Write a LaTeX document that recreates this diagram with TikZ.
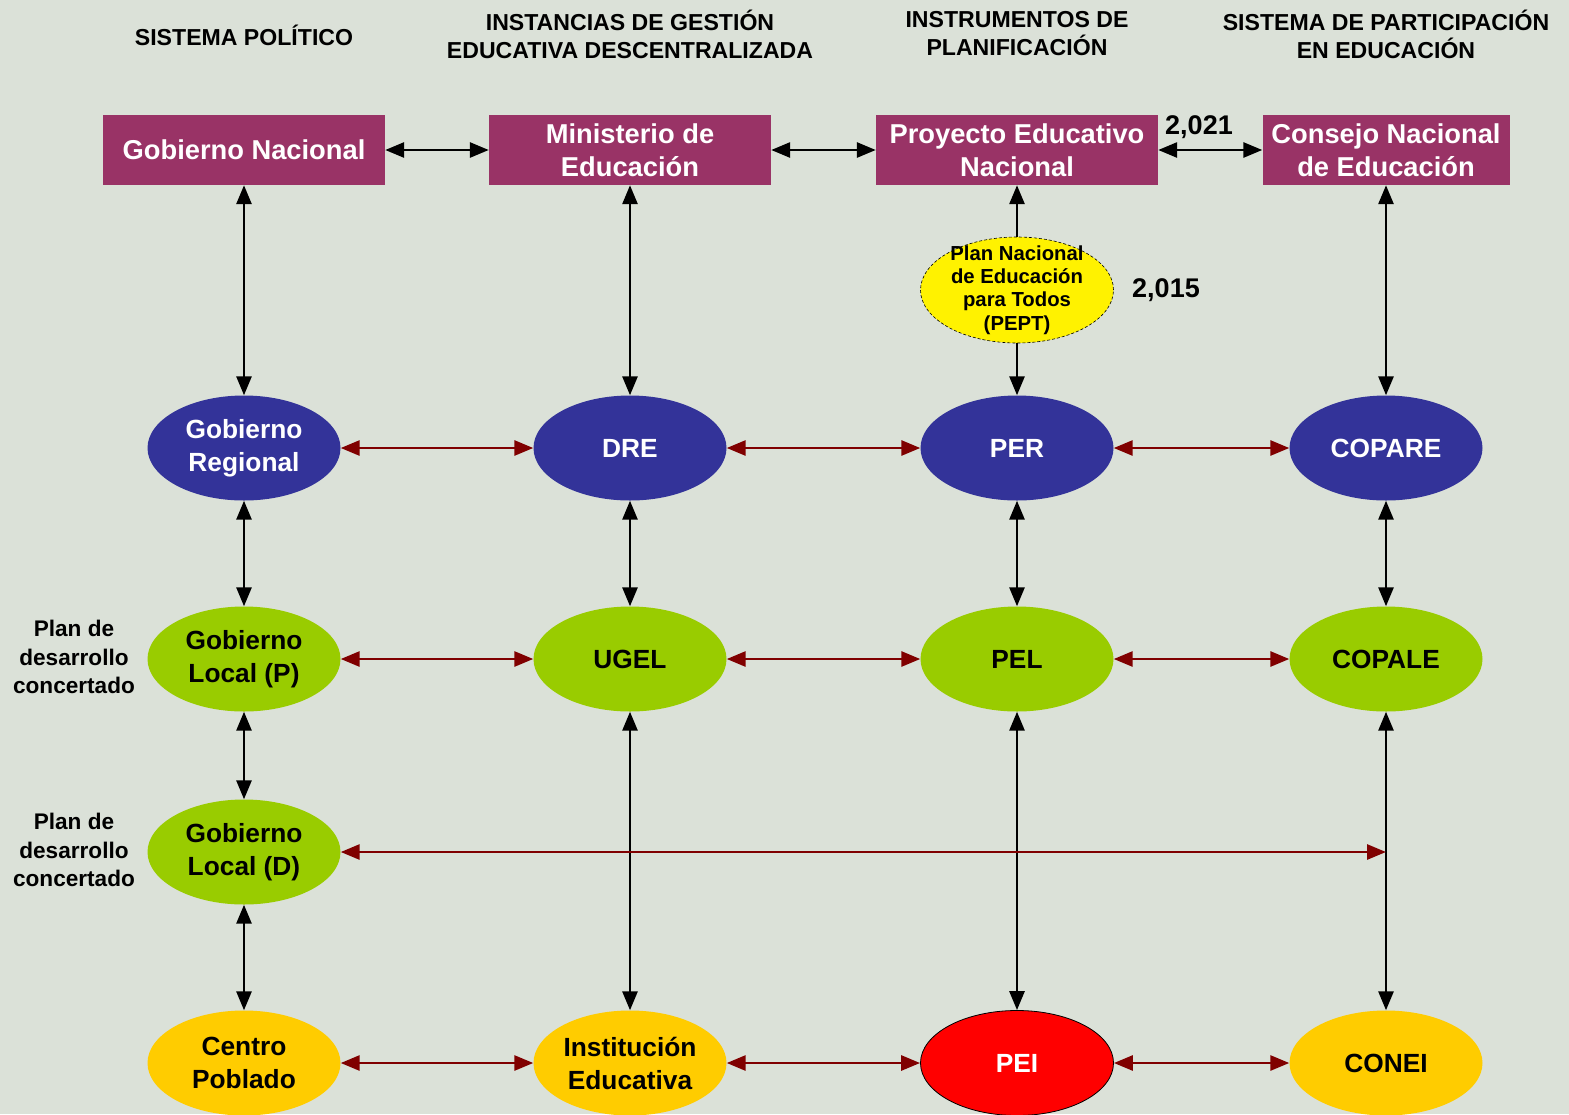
\documentclass[tikz,border=0pt]{standalone}
\usepackage{fontspec}
\setmainfont{Liberation Sans}
\usetikzlibrary{shapes.geometric,arrows.meta}
\definecolor{bgc}{HTML}{DBE1D8}
\definecolor{maroonc}{HTML}{993366}
\definecolor{navyc}{HTML}{333399}
\definecolor{limec}{HTML}{99CC00}
\definecolor{goldc}{HTML}{FFCC00}
\definecolor{darkredc}{HTML}{800000}
\tikzset{
  rectbox/.style={rectangle, fill=maroonc, text=white, minimum width=282pt, minimum height=70pt, inner sep=0pt, align=center, font=\bfseries\fontsize{27.3}{33}\selectfont},
  ell/.style={ellipse, minimum width=193pt, minimum height=105pt, inner sep=0pt, align=center, font=\bfseries\fontsize{26.3}{33}\selectfont},
  blueell/.style={ell, fill=navyc, text=white},
  greenell/.style={ell, fill=limec, text=black},
  goldell/.style={ell, fill=goldc, text=black},
  hdr/.style={align=center, inner sep=0pt, font=\bfseries\fontsize{23.1}{28}\selectfont},
  lbl/.style={align=center, inner sep=0pt, font=\bfseries\fontsize{22.6}{28.5}\selectfont},
  yr/.style={inner sep=0pt, font=\bfseries\fontsize{27}{30}\selectfont},
  pepttext/.style={align=center, inner sep=0pt, font=\bfseries\fontsize{20.3}{23.3}\selectfont},
  barrow/.style={line width=2.8pt, draw=black, {Triangle[length=19pt,width=15pt]}-{Triangle[length=19pt,width=15pt]}},
  sarrow/.style={line width=2.8pt, draw=black, -{Triangle[length=19pt,width=15pt]}},
  rarrow/.style={line width=2.8pt, draw=darkredc, {Triangle[length=19pt,width=15pt]}-{Triangle[length=19pt,width=15pt]}},
}
\begin{document}
\begin{tikzpicture}[x=1pt,y=-1pt]
\useasboundingbox (0,0) rectangle (1569,1114);
\clip (0,0) rectangle (1569,1114);
\fill[bgc] (0,0) rectangle (1569,1114);

% headers
\node[hdr] (h1) at (244,35) {SISTEMA POLÍTICO};
\node[hdr] (h2) at (630,34) {INSTANCIAS DE GESTIÓN\\EDUCATIVA DESCENTRALIZADA};
\node[hdr] (h3) at (1017,34) {INSTRUMENTOS DE\\PLANIFICACIÓN};
\node[hdr] (h4) at (1386,34) {SISTEMA DE PARTICIPACIÓN\\EN EDUCACIÓN};

% top boxes
\node[rectbox] (gn) at (244,150) {Gobierno Nacional};
\node[rectbox] (me) at (630,150) {Ministerio de\\Educación};
\node[rectbox] (pen) at (1017,150) {Proyecto Educativo\\Nacional};
\node[rectbox, minimum width=247pt] (cne) at (1386,150) {Consejo Nacional\\de Educación};

\node[yr] (y21) at (1199,127) {2,021};

% PEPT
\node[ellipse, fill=yellow, draw=black, densely dashed, line width=0.6pt, minimum width=193pt, minimum height=106pt, inner sep=0pt] (pept) at (1017,290) {};
\node[pepttext] (pepttx) at (pept.center) {Plan Nacional\\de Educación\\para Todos\\(PEPT)};
\node[yr] (y15) at (1166,290) {2,015};

% row 1
\node[blueell] (greg) at (244,448) {Gobierno\\Regional};
\node[blueell] (dre) at (630,448) {DRE};
\node[blueell] (per) at (1017,448) {PER};
\node[blueell] (copare) at (1386,448) {COPARE};

% row 2
\node[greenell] (glp) at (244,659) {Gobierno\\Local (P)};
\node[greenell] (ugel) at (630,659) {UGEL};
\node[greenell] (pel) at (1017,659) {PEL};
\node[greenell] (copale) at (1386,659) {COPALE};

% row 3
\node[greenell] (gld) at (244,852) {Gobierno\\Local (D)};
\coordinate (cp) at (1386,852);

% row 4
\node[goldell] (cpob) at (244,1063) {Centro\\Poblado};
\node[goldell] (ie) at (630,1063) {Institución\\Educativa};
\node[ell, fill=red, draw=black, line width=0.8pt, text=white] (pei) at (1017,1063) {PEI};
\node[goldell] (conei) at (1386,1063) {CONEI};

% side labels
\node[lbl] (pd1) at (74,657) {Plan de\\desarrollo\\concertado};
\node[lbl] (pd2) at (74,850) {Plan de\\desarrollo\\concertado};

% top horizontal arrows
\draw[barrow] (gn) -- (me);
\draw[barrow] (me) -- (pen);
\draw[barrow] (pen) -- (cne);

% top vertical arrows
\draw[barrow] (gn) -- (greg);
\draw[barrow] (me) -- (dre);
\draw[sarrow] (pept) -- (pen);
\draw[sarrow] (pept) -- (per);
\draw[barrow] (cne) -- (copare);

% row 1 horizontal
\draw[rarrow] (greg) -- (dre);
\draw[rarrow] (dre) -- (per);
\draw[rarrow] (per) -- (copare);

% row1-row2 vertical
\draw[barrow] (greg) -- (glp);
\draw[barrow] (dre) -- (ugel);
\draw[barrow] (per) -- (pel);
\draw[barrow] (copare) -- (copale);

% row 2 horizontal
\draw[rarrow] (glp) -- (ugel);
\draw[rarrow] (ugel) -- (pel);
\draw[rarrow] (pel) -- (copale);

% lower verticals
\draw[barrow] (glp) -- (gld);
\draw[barrow] (gld) -- (cpob);
\draw[barrow] (ugel) -- (ie);
\draw[barrow] (pel) -- (pei);
\draw[barrow] (copale) -- (conei);

% row 3 horizontal
\draw[rarrow] (gld) -- (cp);

% row 4 horizontal
\draw[rarrow] (cpob) -- (ie);
\draw[rarrow] (ie) -- (pei);
\draw[rarrow] (pei) -- (conei);
\end{tikzpicture}
\end{document}
